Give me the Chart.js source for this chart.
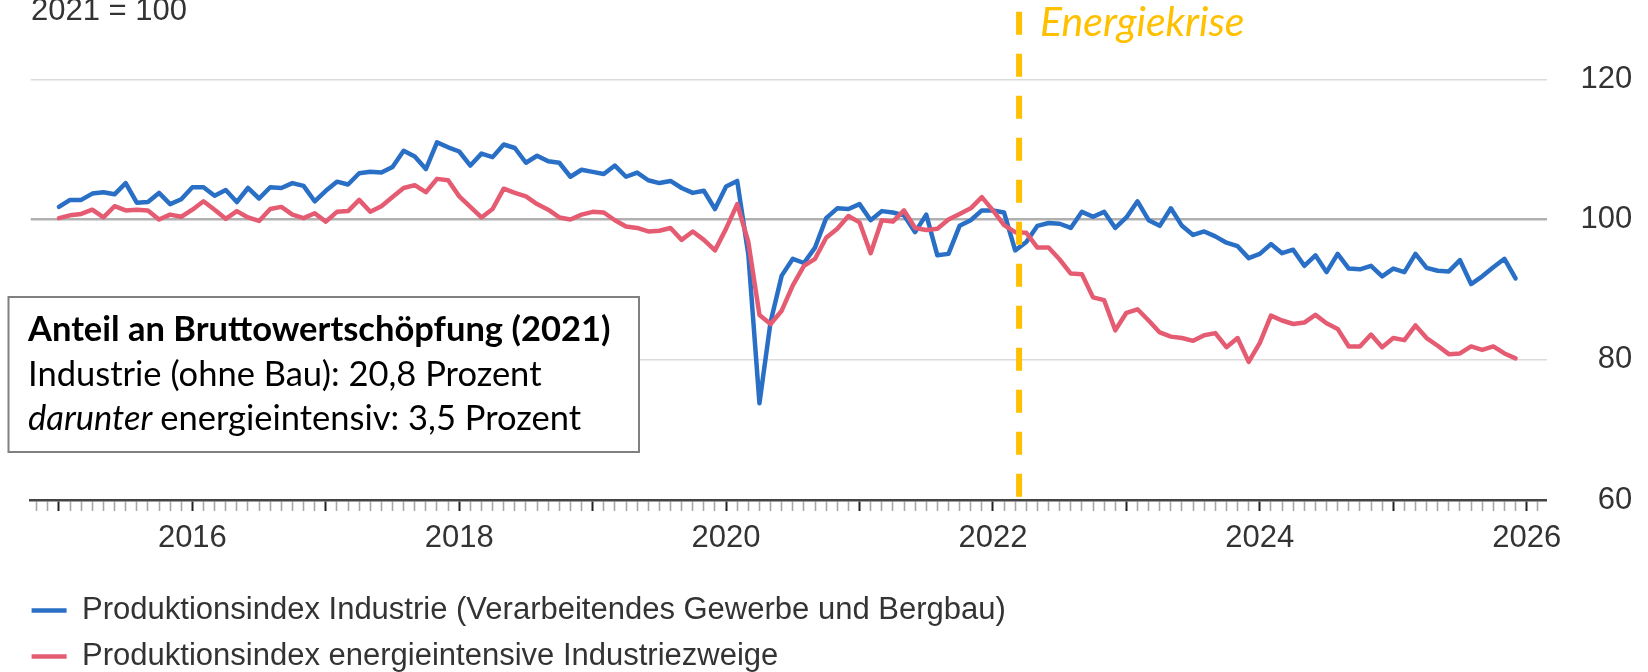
<!DOCTYPE html>
<html lang="de">
<head>
<meta charset="utf-8">
<title>Produktionsindex Industrie</title>
<script src="https://cdn.jsdelivr.net/npm/chart.js@4.4.1/dist/chart.umd.min.js"></script>
<style>
  html, body { margin: 0; padding: 0; background: #fff; }
  #chart { display: block; }
</style>
</head>
<body>
<canvas id="chart" width="1648" height="672"></canvas>
<script>
// Monatswerte Jan 2015 - Dez 2025, 2021 = 100
const industrie = [
  101.8, 102.8, 102.8, 103.7, 103.9, 103.6, 105.2, 102.4, 102.5, 103.8, 102.2, 102.9,
  104.6, 104.6, 103.4, 104.2, 102.5, 104.5, 103.0, 104.6, 104.5, 105.2, 104.8, 102.6,
  104.1, 105.4, 105.0, 106.6, 106.8, 106.7, 107.5, 109.8, 109.0, 107.2, 111.0, 110.3,
  109.7, 107.7, 109.4, 108.9, 110.7, 110.2, 108.1, 109.1, 108.3, 108.1, 106.1, 107.1,
  106.8, 106.5, 107.7, 106.1, 106.7, 105.6, 105.2, 105.5, 104.5, 103.8, 104.1, 101.5,
  104.7, 105.5, 95.0, 73.8, 85.4, 92.0, 94.4, 93.8, 96.0, 100.2, 101.6, 101.5,
  102.2, 99.9, 101.2, 101.0, 100.6, 98.2, 100.7, 94.9, 95.1, 99.1, 99.9, 101.3,
  101.3, 101.0, 95.6, 96.8, 99.1, 99.5, 99.4, 98.8, 101.1, 100.4, 101.1, 98.8,
  100.3, 102.6, 99.9, 99.1, 101.6, 99.1, 97.8, 98.3, 97.6, 96.7, 96.2, 94.5,
  95.1, 96.5, 95.2, 95.7, 93.4, 94.9, 92.5, 95.1, 93.0, 92.9, 93.4, 91.9,
  93.0, 92.5, 95.1, 93.1, 92.7, 92.6, 94.2, 90.8, 91.9, 93.2, 94.4, 91.6
];

const energieintensiv = [
  100.2, 100.6, 100.8, 101.4, 100.3, 101.9, 101.3, 101.4, 101.3, 100.0, 100.7, 100.4,
  101.4, 102.6, 101.4, 100.1, 101.2, 100.3, 99.8, 101.5, 101.8, 100.7, 100.2, 100.9,
  99.7, 101.1, 101.2, 102.8, 101.1, 101.9, 103.2, 104.5, 104.9, 103.9, 105.8, 105.6,
  103.3, 101.8, 100.3, 101.5, 104.4, 103.8, 103.3, 102.2, 101.4, 100.3, 100.0, 100.7,
  101.1, 101.0, 99.9, 99.0, 98.8, 98.3, 98.4, 98.8, 97.1, 98.3, 97.1, 95.6,
  98.7, 102.2, 96.8, 86.4, 85.1, 87.0, 90.6, 93.4, 94.4, 97.4, 98.7, 100.5,
  99.6, 95.2, 99.9, 99.7, 101.3, 98.8, 98.5, 98.7, 100.0, 100.8, 101.6, 103.2,
  101.3, 99.2, 98.2, 98.1, 96.0, 96.0, 94.3, 92.3, 92.2, 88.9, 88.5, 84.2,
  86.7, 87.2, 85.6, 83.9, 83.3, 83.1, 82.7, 83.5, 83.8, 81.8, 83.1, 79.7,
  82.4, 86.3, 85.6, 85.1, 85.3, 86.4, 85.2, 84.4, 81.9, 81.9, 83.6, 81.8,
  83.1, 82.8, 84.9, 83.1, 82.0, 80.8, 80.9, 81.9, 81.4, 81.9, 80.9, 80.2
];

const seriesNames = [
  'Produktionsindex Industrie (Verarbeitendes Gewerbe und Bergbau)',
  'Produktionsindex energieintensive Industriezweige'
];

// x axis: months counted from Jan 2015
const startYear = 2015;
const yearLabels = ['2016', '2018', '2020', '2022', '2024', '2026'];
const yTicks = [60, 80, 100, 120];

const crisisMonth = 86.35; // Mitte Maerz 2022
const crisisLabel = 'Energiekrise';
const unitLabel = '2021 = 100';
const infoLines = [
  'Anteil an Bruttowertschöpfung (2021)',
  'Industrie (ohne Bau): 20,8 Prozent',
  'energieintensiv: 3,5 Prozent'
];
const infoItalic = 'darunter';

const BLUE = '#2a6fc6';
const RED = '#e55c72';
const YELLOW = '#ffc000';
const SANS = '"Liberation Sans", Arial, sans-serif';
const NOTE = 'Lato, "Open Sans", sans-serif';

const toPoints = arr => arr.map((v, i) => ({ x: i, y: v }));

function monthOfYear(label) {
  return (Number(label) - startYear) * 12;
}

// Annotations: dashed crisis line, unit text and info box
const overlay = {
  id: 'overlay',
  afterDatasetsDraw(chart) {
    const { ctx, chartArea } = chart;
    const px = chart.scales.x.getPixelForValue(crisisMonth);
    ctx.save();
    ctx.strokeStyle = YELLOW;
    ctx.lineWidth = 6;
    ctx.setLineDash([23, 19]);
    ctx.beginPath();
    ctx.moveTo(px, 11.7);
    ctx.lineTo(px, chartArea.bottom);
    ctx.stroke();
    ctx.setLineDash([]);
    ctx.fillStyle = YELLOW;
    ctx.font = 'italic 41px ' + NOTE;
    ctx.textBaseline = 'alphabetic';
    ctx.fillText(crisisLabel, px + 21, 36);
    ctx.restore();
  },
  afterDraw(chart) {
    const { ctx } = chart;
    ctx.save();
    ctx.fillStyle = '#333';
    ctx.font = '31px ' + SANS;
    ctx.textBaseline = 'alphabetic';
    ctx.fillText(unitLabel, 31, 20);

    ctx.fillStyle = '#fff';
    ctx.fillRect(8.5, 297, 630.5, 155);
    ctx.strokeStyle = '#808080';
    ctx.lineWidth = 2;
    ctx.strokeRect(8.5, 297, 630.5, 155);

    ctx.fillStyle = '#000';
    ctx.font = 'bold 34.5px ' + NOTE;
    ctx.fillText(infoLines[0], 28, 340.5);
    ctx.font = '34.5px ' + NOTE;
    ctx.fillText(infoLines[1], 28, 385.5);
    ctx.font = 'italic 34.5px ' + NOTE;
    ctx.fillText(infoItalic, 28, 430);
    const w = ctx.measureText(infoItalic + ' ').width;
    ctx.font = '34.5px ' + NOTE;
    ctx.fillText(infoLines[2], 28 + w, 430);
    ctx.restore();
  }
};

Chart.defaults.font.family = SANS;
Chart.defaults.color = '#333';

new Chart(document.getElementById('chart'), {
  type: 'line',
  data: {
    datasets: [
      {
        label: seriesNames[0],
        data: toPoints(industrie),
        borderColor: BLUE,
        backgroundColor: BLUE,
        borderWidth: 4.5,
        order: 1,
        yAxisID: 'y'
      },
      {
        label: seriesNames[1],
        data: toPoints(energieintensiv),
        borderColor: RED,
        backgroundColor: RED,
        borderWidth: 4.5,
        order: 0,
        yAxisID: 'y'
      }
    ]
  },
  options: {
    responsive: false,
    animation: false,
    layout: { padding: { top: 79.3, right: 15.7, left: 16.6, bottom: 0 } },
    elements: {
      point: { radius: 0, hoverRadius: 0 },
      line: { tension: 0, borderJoinStyle: 'round', borderCapStyle: 'round' }
    },
    scales: {
      x: {
        type: 'linear',
        min: -2.54,
        max: 133.8,
        ticks: {
          stepSize: 1,
          autoSkip: false,
          includeBounds: false,
          maxRotation: 0,
          padding: 9,
          font: { size: 31 },
          color: '#333',
          callback: v => yearLabels.find(l => monthOfYear(l) === v) || ''
        },
        grid: {
          drawOnChartArea: false,
          tickLength: 11,
          tickColor: c => (c.tick && c.tick.value % 12 === 0 ? '#222' : '#a8a8a8'),
          tickWidth: c => (c.tick && c.tick.value % 12 === 0 ? 2 : 1.6)
        },
        border: { color: '#444', width: 2.5 },
        afterFit: s => { s.height = 80; }
      },
      y: {
        position: 'right',
        min: yTicks[0],
        max: yTicks[yTicks.length - 1],
        ticks: {
          stepSize: 20,
          padding: 35,
          crossAlign: 'far',
          font: { size: 31 },
          color: '#333',
          callback: v => (yTicks.includes(v) ? String(v) : '')
        },
        grid: {
          drawTicks: false,
          color: c => (c.tick && c.tick.value === 100 ? '#b0b0b0' : '#dcdcdc'),
          lineWidth: c => (c.tick && c.tick.value === 100 ? 2.5 : 1.5)
        },
        border: { display: false },
        afterFit: s => { s.width = 85.6; }
      },
      pad: {
        type: 'linear',
        position: 'left',
        grid: { display: false },
        ticks: { display: false },
        border: { display: false },
        afterFit: s => { s.width = 14.1; }
      }
    },
    plugins: {
      legend: {
        position: 'bottom',
        align: 'start',
        maxHeight: 92,
        labels: {
          usePointStyle: true,
          pointStyle: 'line',
          pointStyleWidth: 35,
          padding: 15,
          color: '#333',
          font: { size: 31 },
          sort: (a, b) => a.datasetIndex - b.datasetIndex
        }
      },
      tooltip: { enabled: false }
    }
  },
  plugins: [overlay]
});
</script>
</body>
</html>
